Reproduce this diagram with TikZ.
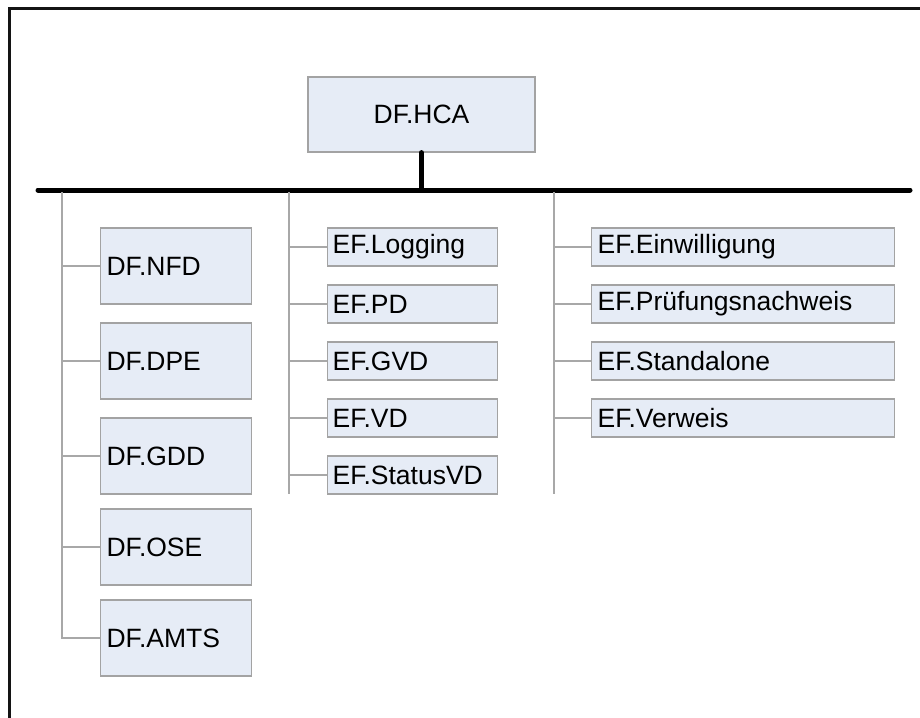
\documentclass[tikz,border=0pt]{standalone}
\usepackage{fontspec}
\setmainfont{Liberation Sans}
\definecolor{boxfill}{HTML}{E6ECF6}
\definecolor{boxline}{HTML}{A3A3A3}
\definecolor{branch}{HTML}{A8A8A8}
\begin{document}
\begin{tikzpicture}[x=1pt,y=-1pt,
  every node/.style={font=\fontsize{26.5}{30}\selectfont},
  unitbox/.style={draw=boxline, fill=boxfill, line width=1.2pt, rectangle,
    inner ysep=0pt, align=left},
  dfbox/.style={unitbox, anchor=west, inner xsep=6pt, text width=139pt, minimum height=76pt},
  efbox/.style={unitbox, anchor=west, inner xsep=5pt, text width=160pt, minimum height=38pt},
  eflong/.style={unitbox, anchor=west, inner xsep=6pt, text width=291pt, minimum height=38pt},
  branchline/.style={draw=branch, line width=1.4pt},
  busline/.style={draw=black, line width=5pt, line cap=round}]
\useasboundingbox (0,0) rectangle (920,717);
\clip (0,0) rectangle (920,717);

% outer frame (right and bottom edges lie outside the page)
\draw[line width=2.6pt, draw=black!92] (9.5,8.5) rectangle (950,750);

% root unit and bus
\node[unitbox, minimum width=227pt, minimum height=75pt, align=center] (hca) at (421.5,114.5) {DF.HCA};
\coordinate (busL) at (38,190);
\coordinate (busR) at (910,190);

% column rails
\coordinate (c1top) at (62,192);
\coordinate (c2top) at (289,192);
\coordinate (c2bot) at (289,494);
\coordinate (c3top) at (554,192);
\coordinate (c3bot) at (554,494);

% column 1: DF units
\node[dfbox] (nfd)  at (100,266) {DF.NFD};
\node[dfbox] (dpe)  at (100,361) {DF.DPE};
\node[dfbox] (gdd)  at (100,456) {DF.GDD};
\node[dfbox] (ose)  at (100,547) {DF.OSE};
\node[dfbox] (amts) at (100,638) {DF.AMTS};

% column 2: EF units
\node[efbox] (log) at (327,247) {EF.Logging};
\node[efbox] (pd)  at (327,304) {EF.PD};
\node[efbox] (gvd) at (327,361) {EF.GVD};
\node[efbox] (vd)  at (327,418) {EF.VD};
\node[efbox] (svd) at (327,475) {EF.StatusVD};

% column 3: EF units
\node[eflong] (ein) at (591,247) {EF.Einwilligung};
\node[eflong] (pru) at (591,304) {EF.Prüfungsnachweis};
\node[eflong] (sta) at (591,361) {EF.Standalone};
\node[eflong] (ver) at (591,418) {EF.Verweis};

% connectors
\draw[busline] (hca.south) -- (hca.south |- busL);
\draw[busline] (busL) -- (busR);

\draw[branchline] (c1top) |- (amts.west);
\foreach \n in {nfd,dpe,gdd,ose}
  \draw[branchline] (c1top |- \n.west) -- (\n.west);

\draw[branchline] (c2top) -- (c2bot);
\foreach \n in {log,pd,gvd,vd,svd}
  \draw[branchline] (c2top |- \n.west) -- (\n.west);

\draw[branchline] (c3top) -- (c3bot);
\foreach \n in {ein,pru,sta,ver}
  \draw[branchline] (c3top |- \n.west) -- (\n.west);
\end{tikzpicture}
\end{document}
